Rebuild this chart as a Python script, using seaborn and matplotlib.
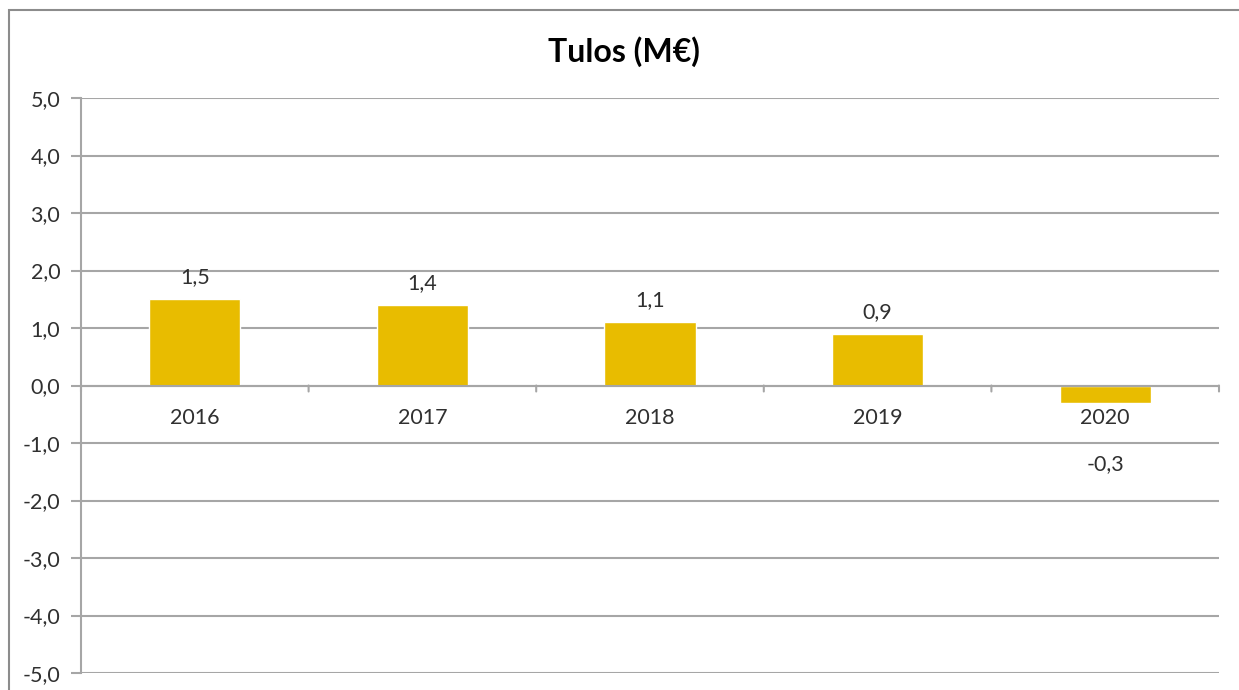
import matplotlib
matplotlib.use("Agg")
import matplotlib.pyplot as plt
import matplotlib.patches as patches
import seaborn as sns
import pandas as pd

# Data
years = ["2016", "2017", "2018", "2019", "2020"]
tulos = [1.5, 1.4, 1.1, 0.9, -0.3]
y_ticks = [-5, -4, -3, -2, -1, 0, 1, 2, 3, 4, 5]

bar_color = "#E8BC00"
grid_color = "#A6A6A6"
text_color = "#303030"

sns.set_style("white")
plt.rcParams["font.family"] = ["Lato", "DejaVu Sans"]

df = pd.DataFrame({"Vuosi": years, "Tulos": tulos})

fig = plt.figure(figsize=(12.39, 6.9), dpi=100)
ax = fig.add_axes([81 / 1239, 17 / 690, (1219 - 81) / 1239, (673 - 98) / 690])

sns.barplot(data=df, x="Vuosi", y="Tulos", color=bar_color, width=0.4,
            saturation=1, ax=ax, zorder=3)

ax.set_ylim(-5, 5)
ax.set_xlim(-0.5, len(years) - 0.5)
ax.set_yticks(y_ticks)
ax.set_yticklabels([f"{v:.1f}".replace(".", ",") for v in y_ticks],
                   fontsize=15.5, color=text_color)
ax.tick_params(axis="y", length=7, width=1.5, color=grid_color, pad=8, left=True)
ax.set_xticks([])
ax.set_xlabel("")
ax.set_ylabel("")

# gridlines
for v in y_ticks:
    ax.axhline(v, color=grid_color, linewidth=1.5, zorder=1)

for side in ["top", "right", "bottom"]:
    ax.spines[side].set_visible(False)
ax.spines["left"].set_color(grid_color)
ax.spines["left"].set_linewidth(1.5)

# category axis at zero with boundary ticks
ax.axhline(0, color=grid_color, linewidth=1.5, zorder=4)
for b in range(len(years) + 1):
    ax.annotate("", xy=(b - 0.5, 0), xytext=(0, -6), textcoords="offset pixels",
                arrowprops=dict(arrowstyle="-", color=grid_color, lw=1.5,
                                shrinkA=0, shrinkB=0))

# category labels and value labels
for i, (yr, val) in enumerate(zip(years, tulos)):
    ax.annotate(yr, xy=(i, 0), xytext=(0, -32), textcoords="offset pixels",
                ha="center", va="center", fontsize=15.5, color=text_color)
    lab = f"{val:.1f}".replace(".", ",")
    if val >= 0:
        ax.annotate(lab, xy=(i, val), xytext=(0, 22), textcoords="offset pixels",
                    ha="center", va="center", fontsize=15.5, color=text_color)
    else:
        ax.annotate(lab, xy=(i, val), xytext=(0, -61), textcoords="offset pixels",
                    ha="center", va="center", fontsize=15.5, color=text_color)

fig.text(624 / 1239, 1 - 52 / 690, "Tulos (M€)", ha="center", va="center",
         fontsize=23, fontweight="bold", color="black")

# outer chart border
fig.patches.append(patches.Rectangle((9 / 1239, -0.1), 1.2, 1 - 10 / 690 + 0.1,
                                     transform=fig.transFigure, fill=False,
                                     edgecolor="#8C8C8C", linewidth=1.5))

fig.savefig("out.png", dpi=100)
